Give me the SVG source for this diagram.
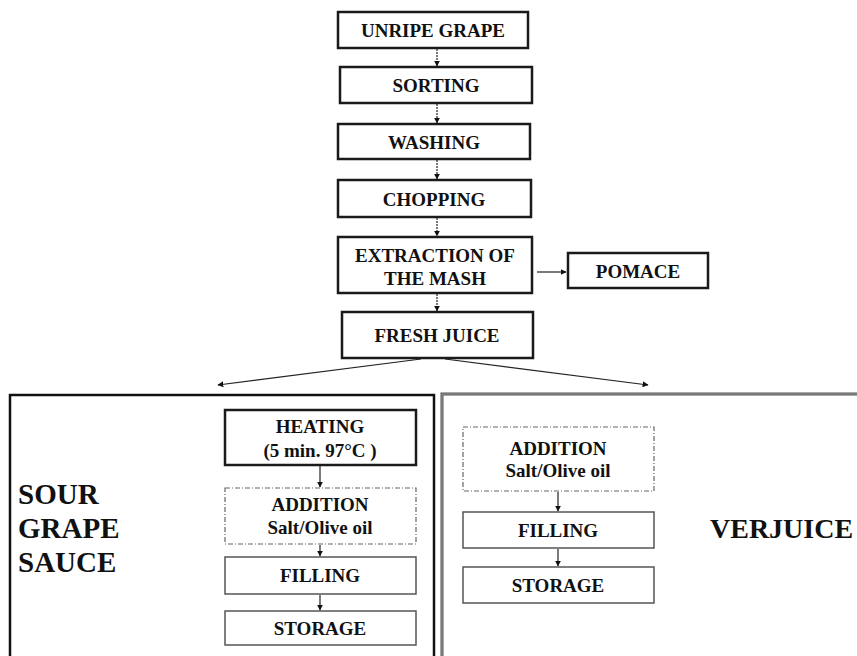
<svg xmlns="http://www.w3.org/2000/svg" width="857" height="656" viewBox="0 0 857 656">
<defs>
<marker id="ah" viewBox="0 0 10 10" refX="9" refY="5" markerWidth="6" markerHeight="6" orient="auto" markerUnits="userSpaceOnUse">
<path d="M0,0 L10,5 L0,10 Z" fill="#111"/>
</marker>
<style>
.main{fill:#fff;stroke:#1a1a1a;stroke-width:2.5}
.thin{fill:#fff;stroke:#555;stroke-width:1.5}
.dash{fill:#fff;stroke:#666;stroke-width:1.2;stroke-dasharray:5 2 1 2}
.t{font-family:"Liberation Serif","Times New Roman",serif;font-weight:bold;font-size:19px;fill:#111;text-anchor:middle}
.big{font-family:"Liberation Serif","Times New Roman",serif;font-weight:bold;font-size:29px;fill:#111}
.c{stroke:#222;stroke-width:1.2;fill:none;marker-end:url(#ah)}
</style>
</defs>
<rect width="857" height="656" fill="#fff"/>
<g id="panel-left"><rect x="10" y="395" width="424" height="275" fill="none" stroke="#111" stroke-width="2.5"/>
<text class="big" x="18" y="504">SOUR</text><text class="big" x="18" y="538">GRAPE</text><text class="big" x="18" y="572">SAUCE</text></g>
<g id="panel-right"><rect x="442" y="394" width="430" height="275" fill="none" stroke="#555" stroke-width="3"/>
<rect x="442" y="394" width="430" height="275" fill="none" stroke="#ccc" stroke-width="0.6"/>
<text class="big" x="710" y="538" style="font-size:28px">VERJUICE</text></g>
<g id="unripe"><rect class="main" x="338" y="12" width="190" height="36"/><text class="t" x="433" y="37">UNRIPE GRAPE</text></g>
<g id="sorting"><rect class="main" x="340" y="67" width="192" height="36"/><text class="t" x="436" y="92">SORTING</text></g>
<g id="washing"><rect class="main" x="338" y="124" width="192" height="35"/><text class="t" x="434" y="149">WASHING</text></g>
<g id="chopping"><rect class="main" x="338" y="180" width="193" height="37"/><text class="t" x="434" y="206">CHOPPING</text></g>
<g id="extraction"><rect class="main" x="338" y="237" width="194" height="56"/><text class="t" x="435" y="262">EXTRACTION  OF</text><text class="t" x="435" y="285">THE MASH</text></g>
<g id="pomace"><rect class="main" x="568" y="253" width="140" height="35"/><text class="t" x="638" y="278">POMACE</text></g>
<g id="fresh"><rect class="main" x="342" y="312" width="191" height="46"/><text class="t" x="437" y="342">FRESH JUICE</text></g>
<g id="heating"><rect class="main" x="225" y="410" width="191" height="55"/><text class="t" x="320" y="433">HEATING</text><text class="t" x="320" y="457">(5 min. 97°C )</text></g>
<g id="addition-l"><rect class="dash" x="225" y="488" width="191" height="56"/><text class="t" x="320" y="511">ADDITION</text><text class="t" x="320" y="534">Salt/Olive oil</text></g>
<g id="filling-l"><rect class="thin" x="225" y="557" width="191" height="37"/><text class="t" x="320" y="582">FILLING</text></g>
<g id="storage-l"><rect class="thin" x="225" y="611" width="191" height="34"/><text class="t" x="320" y="635">STORAGE</text></g>
<g id="addition-r"><rect class="dash" x="463" y="427" width="191" height="64"/><text class="t" x="558" y="455">ADDITION</text><text class="t" x="558" y="477">Salt/Olive oil</text></g>
<g id="filling-r"><rect class="thin" x="463" y="512" width="191" height="36"/><text class="t" x="558" y="537">FILLING</text></g>
<g id="storage-r"><rect class="thin" x="463" y="567" width="191" height="36"/><text class="t" x="558" y="592">STORAGE</text></g>
<g id="connectors">
<line class="c" x1="437" y1="49" x2="437" y2="66" stroke-dasharray="2 1"/>
<line class="c" x1="437" y1="104" x2="437" y2="123" stroke-dasharray="2 1"/>
<line class="c" x1="437" y1="160" x2="437" y2="179" stroke-dasharray="2 1"/>
<line class="c" x1="437" y1="218" x2="437" y2="236" stroke-dasharray="2 1"/>
<line class="c" x1="437" y1="294" x2="437" y2="311" stroke-dasharray="2 1"/>
<line class="c" x1="537" y1="272" x2="566" y2="272"/>
<line class="c" x1="421" y1="359" x2="218" y2="385"/>
<line class="c" x1="445" y1="359" x2="648" y2="385"/>
<line class="c" x1="320" y1="466" x2="320" y2="487"/>
<line class="c" x1="320" y1="545" x2="320" y2="556"/>
<line class="c" x1="320" y1="595" x2="320" y2="610"/>
<line class="c" x1="558" y1="492" x2="558" y2="511"/>
<line class="c" x1="558" y1="549" x2="558" y2="566"/>
</g>
</svg>
